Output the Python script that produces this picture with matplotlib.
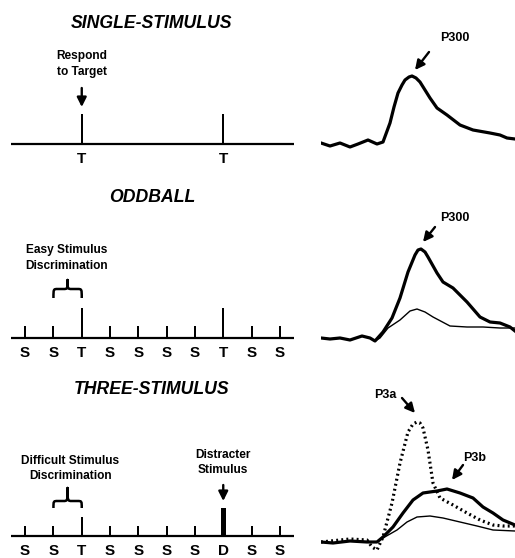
import numpy as np
import matplotlib.pyplot as plt
from matplotlib.path import Path
from matplotlib.patches import PathPatch

plt.rcParams['font.family'] = ['Liberation Sans', 'DejaVu Sans']
plt.rcParams['font.weight'] = 'bold'

# stimulus sequences ('' = no stimulus shown)
single_seq = ['', '', 'T', '', '', '', '', 'T', '', '']
oddball_seq = ['S', 'S', 'T', 'S', 'S', 'S', 'S', 'T', 'S', 'S']
three_seq = ['S', 'S', 'T', 'S', 'S', 'S', 'S', 'D', 'S', 'S']

titles = ['SINGLE-STIMULUS', 'ODDBALL', 'THREE-STIMULUS']

# ERP waveforms (time in samples, amplitude above baseline)
single_t = [0, 9, 19, 29, 37, 47, 56, 62, 69, 73, 77, 81, 84, 88, 91, 95, 99, 104, 109,
            116, 126, 139, 152, 169, 179, 186, 194]
single_amp = [2, -1, 2, -2, 1, 5, 1, 3, 22, 38, 52, 60, 65, 68, 69, 67, 63, 55, 47,
              37, 30, 20, 15, 12, 10, 7, 6]

odd_t = [0, 9, 19, 29, 41, 49, 54, 62, 71, 79, 87, 94, 97, 100, 104, 107, 116, 122, 132,
         146, 159, 169, 179, 189, 194]
odd_target = [1, 0, 1, -1, 3, 1, -2, 7, 21, 41, 67, 84, 89, 90, 87, 82, 66, 57, 51,
              37, 22, 17, 16, 12, 8]
odd_thin_t = [0, 9, 19, 29, 41, 49, 54, 59, 67, 79, 89, 96, 104, 112, 129, 146, 162, 179, 194]
odd_standard = [1, 0, 1, -1, 3, 1, -2, 1, 11, 19, 28, 30, 27, 22, 13, 12, 12, 11, 11]

three_t = [0, 12, 29, 46, 56, 62, 72, 82, 92, 102, 116, 126, 139, 152, 162, 172, 182, 194]
three_target = [0, -1, 1, 0, 0, 5, 15, 29, 42, 49, 51, 53, 49, 44, 35, 29, 22, 17]
three_std_t = [0, 12, 29, 46, 56, 62, 76, 86, 96, 109, 122, 139, 156, 172, 194]
three_standard = [0, -1, 1, 0, 0, 4, 12, 20, 25, 26, 24, 20, 16, 12, 11]
three_dis_t = [0, 29, 46, 51, 56, 62, 71, 79, 87, 92, 96, 99, 102, 107, 112, 119, 132,
               146, 159, 172, 182, 194]
three_distracter = [0, 3, 2, -5, -8, 5, 39, 79, 110, 118, 120, 119, 114, 92, 59, 44, 37,
                    29, 22, 17, 16, 16]

W, H = 515, 558
fig = plt.figure(figsize=(W / 100, H / 100), dpi=100)


def px_axes(left, top, right, bottom, base, xlim):
    ax = fig.add_axes([left / W, 1 - bottom / H, (right - left) / W, (bottom - top) / H])
    ax.set_xlim(*xlim)
    ax.set_ylim(base - bottom, base - top)
    ax.axis('off')
    return ax


def brace(ax, x0, x1, yb, yh, yt, dx=0.15):
    xm = (x0 + x1) / 2
    verts = [(x0, yb), (x0, yh), (x0, yh), (x0 + dx, yh),
             (xm - dx, yh), (xm, yh), (xm, yh), (xm, yt),
             (xm, yh), (xm, yh), (xm + dx, yh),
             (x1 - dx, yh), (x1, yh), (x1, yh), (x1, yb)]
    codes = [Path.MOVETO, Path.CURVE4, Path.CURVE4, Path.CURVE4,
             Path.LINETO, Path.CURVE4, Path.CURVE4, Path.CURVE4,
             Path.CURVE4, Path.CURVE4, Path.CURVE4,
             Path.LINETO, Path.CURVE4, Path.CURVE4, Path.CURVE4]
    ax.add_patch(PathPatch(Path(verts, codes), fill=False, lw=1.8, color='black',
                           capstyle='butt', joinstyle='round'))


def arrow(ax, start, end):
    ax.annotate('', xy=end, xytext=start, annotation_clip=False,
                arrowprops=dict(arrowstyle='-|>', lw=1.7, color='black',
                                mutation_scale=14, shrinkA=0, shrinkB=0))


def timeline(ax, seq, heights):
    idx = np.arange(len(seq))
    ax.axhline(0, color='black', lw=1.6, xmin=0, xmax=1)
    for i, s in zip(idx, seq):
        if not s:
            continue
        width = 0.18 if s == 'D' else 0.07
        ax.bar(i, heights[s], width=width, bottom=0, color='black', linewidth=0)
        ax.text(i, -15, s, ha='center', va='center', fontsize=11, fontweight='bold')


# titles
for title, y in zip(titles, [23, 197, 390]):
    fig.text(152 / W, 1 - y / H, title, ha='center', va='center', fontsize=12.7,
             fontweight='bold', fontstyle='italic')

label_kw = dict(ha='center', va='center', fontsize=8.6, linespacing=1.4)

# ---- row 1: single stimulus
ax = px_axes(11, 40, 294, 170, 144, (-0.5, 9.5))
timeline(ax, single_seq, {'T': 30})
ax.text(2, 80, 'Respond\nto Target', **label_kw)
arrow(ax, (2, 56), (2, 37))

ax = px_axes(321, 30, 515, 165, 145, (0, 194))
ax.plot(single_t, single_amp, color='black', lw=2.3, solid_joinstyle='round')
ax.text(134, 107, 'P300', ha='center', va='center', fontsize=9)
arrow(ax, (108, 93), (94, 75))

# ---- row 2: oddball
ax = px_axes(11, 235, 294, 362, 338, (-0.5, 9.5))
timeline(ax, oddball_seq, {'S': 12, 'T': 30})
ax.text(1.48, 80, 'Easy Stimulus\nDiscrimination', **label_kw)
brace(ax, 1, 2, 40, 49, 58)

ax = px_axes(321, 205, 515, 355, 339, (0, 194))
ax.plot(odd_thin_t, odd_standard, color='black', lw=1.0)
ax.plot(odd_t, odd_target, color='black', lw=2.3, solid_joinstyle='round')
ax.text(134, 121, 'P300', ha='center', va='center', fontsize=9)
arrow(ax, (114, 112), (102, 97))

# ---- row 3: three stimulus
ax = px_axes(11, 445, 294, 558, 536, (-0.5, 9.5))
timeline(ax, three_seq, {'S': 10, 'T': 19, 'D': 28})
ax.text(1.59, 67.5, 'Difficult Stimulus\nDiscrimination', **label_kw)
brace(ax, 1, 2, 28, 35, 48)
ax.text(7, 73.5, 'Distracter\nStimulus', **label_kw)
arrow(ax, (7, 51), (7, 35))

ax = px_axes(321, 390, 515, 558, 542, (0, 194))
ax.plot(three_std_t, three_standard, color='black', lw=1.0)
ax.plot(three_t, three_target, color='black', lw=2.3, solid_joinstyle='round')
ax.plot(three_dis_t, three_distracter, color='black', lw=2.3,
        linestyle=(0, (0.6, 1.0)), dash_capstyle='butt')
ax.text(64, 147, 'P3a', ha='center', va='center', fontsize=9)
arrow(ax, (81, 144), (94, 129))
ax.text(154, 84, 'P3b', ha='center', va='center', fontsize=9)
arrow(ax, (142, 77), (131, 62))

fig.savefig('out.png', dpi=100, facecolor='white')
